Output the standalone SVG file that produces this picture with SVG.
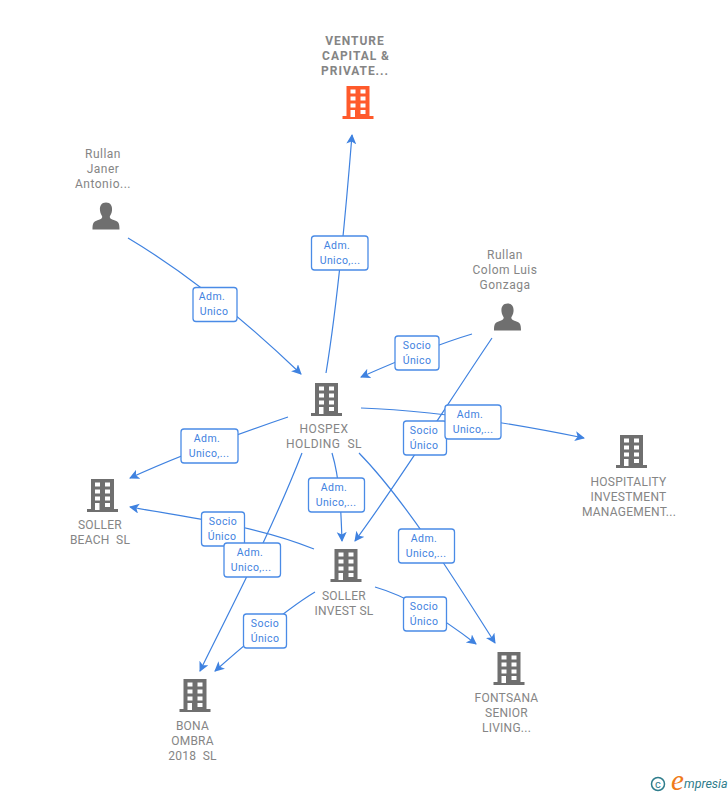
<svg xmlns="http://www.w3.org/2000/svg" width="728" height="795" viewBox="0 0 728 795">
<style>
text{font-family:"Roboto","Liberation Sans",Arial,sans-serif}
.n{font-size:12px;fill:#858585;text-anchor:middle;letter-spacing:.5px}
.u{letter-spacing:.25px}
.b{font-weight:700;font-size:12px;letter-spacing:.95px}
.e{fill:none;stroke:#3f82e0;stroke-width:1.2}
.a{fill:#3f82e0;stroke:none}
.l rect{fill:#fff;stroke:#4a8be6;stroke-width:1.3}
.l text{font-size:10.5px;fill:#3f82e0;text-anchor:middle;letter-spacing:.4px}
.i{fill:#6f6f6f}
.w{fill:#fff}
</style>
<defs>
<marker id="m" markerWidth="12" markerHeight="12" refX="9" refY="5" orient="auto" markerUnits="userSpaceOnUse"><path class="a" d="M0 0L10 5L0 10L2.500 5Z"/></marker>
<g id="bld">
<path d="M-11.500 -17H11.500V13H15.500V16H-15.500V13H-11.500Z"/>
<path class="w" d="M-7.500 -13.500h5v4h-5zM2.500 -13.500h5v4h-5zM-7.500 -6.500h5v4h-5zM2.500 -6.500h5v4h-5zM-7.500 .5h5v4h-5zM2.500 .5h5v4h-5zM-7.500 7h4.500v7h-4.500zM2.500 7h5v4h-5z"/>
</g>
<path id="per" d="M0 -14.500C4.500 -14.500 6.500 -11 6 -6.500C5.700 -3.500 4.500 -2 3.800 -.5C3.500 1.500 6 2.500 9 3.500C12.500 4.800 13.500 6 13.500 12.500H-13.500C-13.500 6 -12.500 4.800 -9 3.500C-6 2.500 -3.500 1.500 -3.800 -.5C-4.500 -2 -5.700 -3.500 -6 -6.500C-6.500 -11 -4.500 -14.500 0 -14.500Z"/>
</defs>
<g id="connectors">
<path class="e" d="M326 373C338 300 346 210 352 135" marker-end="url(#m)"/>
<path class="e" d="M128 238C190 275 250 325 301 374" marker-end="url(#m)"/>
<path class="e" d="M472 334C435 345 395 362 361 377" marker-end="url(#m)"/>
<path class="e" d="M492 338C450 400 400 480 355 541" marker-end="url(#m)"/>
<path class="e" d="M361 408C430 410 510 423 584 438" marker-end="url(#m)"/>
<path class="e" d="M288 417C235 435 180 455 130 478" marker-end="url(#m)"/>
<path class="e" d="M332 453C340 480 341 510 342 541" marker-end="url(#m)"/>
<path class="e" d="M359 453C405 500 455 580 495 643" marker-end="url(#m)"/>
<path class="e" d="M302 453C272 530 235 600 200 671" marker-end="url(#m)"/>
<path class="e" d="M314 549C255 525 190 518 130 507" marker-end="url(#m)"/>
<path class="e" d="M315 592C285 610 250 640 215 671" marker-end="url(#m)"/>
<path class="e" d="M375 587C410 597 445 620 476 644" marker-end="url(#m)"/>
</g>
<g id="labels">
<g class="l"><rect x="311.500" y="236" width="56.500" height="34" rx="3"/><text x="337" y="249">Adm.</text><text x="340" y="264">Unico,...</text></g>
<g class="l"><rect x="193" y="287.500" width="44" height="34" rx="3"/><text x="212" y="300">Adm.</text><text x="214" y="315">Unico</text></g>
<g class="l"><rect x="395" y="336" width="44" height="34" rx="3"/><text x="417" y="349">Socio</text><text x="417" y="364">Único</text></g>
<g class="l"><rect x="403.500" y="421" width="43" height="34" rx="3"/><text x="424" y="434">Socio</text><text x="424" y="449">Único</text></g>
<g class="l"><rect x="445" y="405" width="56" height="34" rx="3"/><text x="470" y="418">Adm.</text><text x="473" y="433">Unico,...</text></g>
<g class="l"><rect x="181" y="429" width="57" height="34" rx="3"/><text x="207" y="442">Adm.</text><text x="209" y="457">Unico,...</text></g>
<g class="l"><rect x="308.500" y="478" width="56" height="34" rx="3"/><text x="334" y="491">Adm.</text><text x="336" y="506">Unico,...</text></g>
<g class="l"><rect x="398.500" y="529" width="56" height="34" rx="3"/><text x="424" y="542">Adm.</text><text x="426" y="557">Unico,...</text></g>
<g class="l"><rect x="201.500" y="512" width="43" height="34" rx="3"/><text x="223" y="525">Socio</text><text x="222" y="540">Único</text></g>
<g class="l"><rect x="224" y="543" width="56.500" height="34" rx="3"/><text x="250" y="556">Adm.</text><text x="251" y="571">Unico,...</text></g>
<g class="l"><rect x="243.500" y="614" width="43" height="34" rx="3"/><text x="265" y="627">Socio</text><text x="265" y="642">Único</text></g>
<g class="l"><rect x="403.500" y="597" width="43" height="34" rx="3"/><text x="424" y="610">Socio</text><text x="424" y="625">Único</text></g>
</g>
<g id="venture"><use href="#bld" x="358" y="103" fill="#ff5a2b"/><text class="n b" x="355" y="45">VENTURE</text><text class="n b" x="356" y="60">CAPITAL &amp;</text><text class="n b" x="355" y="75">PRIVATE...</text></g>
<g id="janer"><use href="#per" x="106" y="217" class="i"/><text class="n" x="103" y="158">Rullan</text><text class="n" x="103" y="173">Janer</text><text class="n" x="103" y="188">Antonio...</text></g>
<g id="colom"><use href="#per" x="507.500" y="318" class="i"/><text class="n" x="505" y="259">Rullan</text><text class="n" x="505" y="274">Colom Luis</text><text class="n" x="505" y="289">Gonzaga</text></g>
<g id="hospex"><use href="#bld" x="326.500" y="400" class="i"/><text class="n" x="324" y="433">HOSPEX</text><text class="n" x="324" y="448" xml:space="preserve">HOLDING  SL</text></g>
<g id="hospitality"><use href="#bld" x="631.500" y="452" class="i"/><text class="n u" x="628.500" y="486">HOSPITALITY</text><text class="n u" x="628.500" y="501">INVESTMENT</text><text class="n u" x="629" y="516">MANAGEMENT...</text></g>
<g id="beach"><use href="#bld" x="102.500" y="496" class="i"/><text class="n u" x="100" y="529">SOLLER</text><text class="n u" x="100" y="544" xml:space="preserve">BEACH  SL</text></g>
<g id="invest"><use href="#bld" x="346" y="566" class="i"/><text class="n u" x="344" y="600">SOLLER</text><text class="n u" x="344" y="615">INVEST SL</text></g>
<g id="fontsana"><use href="#bld" x="509" y="669" class="i"/><text class="n u" x="506.500" y="702">FONTSANA</text><text class="n u" x="506.500" y="717">SENIOR</text><text class="n u" x="506.500" y="732">LIVING...</text></g>
<g id="bona"><use href="#bld" x="195" y="696" class="i"/><text class="n u" x="192.500" y="730">BONA</text><text class="n u" x="192.500" y="745">OMBRA</text><text class="n u" x="192.500" y="760" xml:space="preserve">2018  SL</text></g>
<g id="logo"><circle cx="658" cy="784" r="6.500" fill="none" stroke="#2f7d8c" stroke-width="1.500"/><text x="658" y="788" font-size="11" text-anchor="middle" fill="#2f7d8c">c</text><text x="671" y="790" font-size="29" font-style="italic" fill="#f07a1a" style="font-family:'Liberation Serif',serif">e</text><text x="684" y="788" font-size="12.500" font-style="italic" fill="#2f7d8c">mpresia</text></g>
</svg>
